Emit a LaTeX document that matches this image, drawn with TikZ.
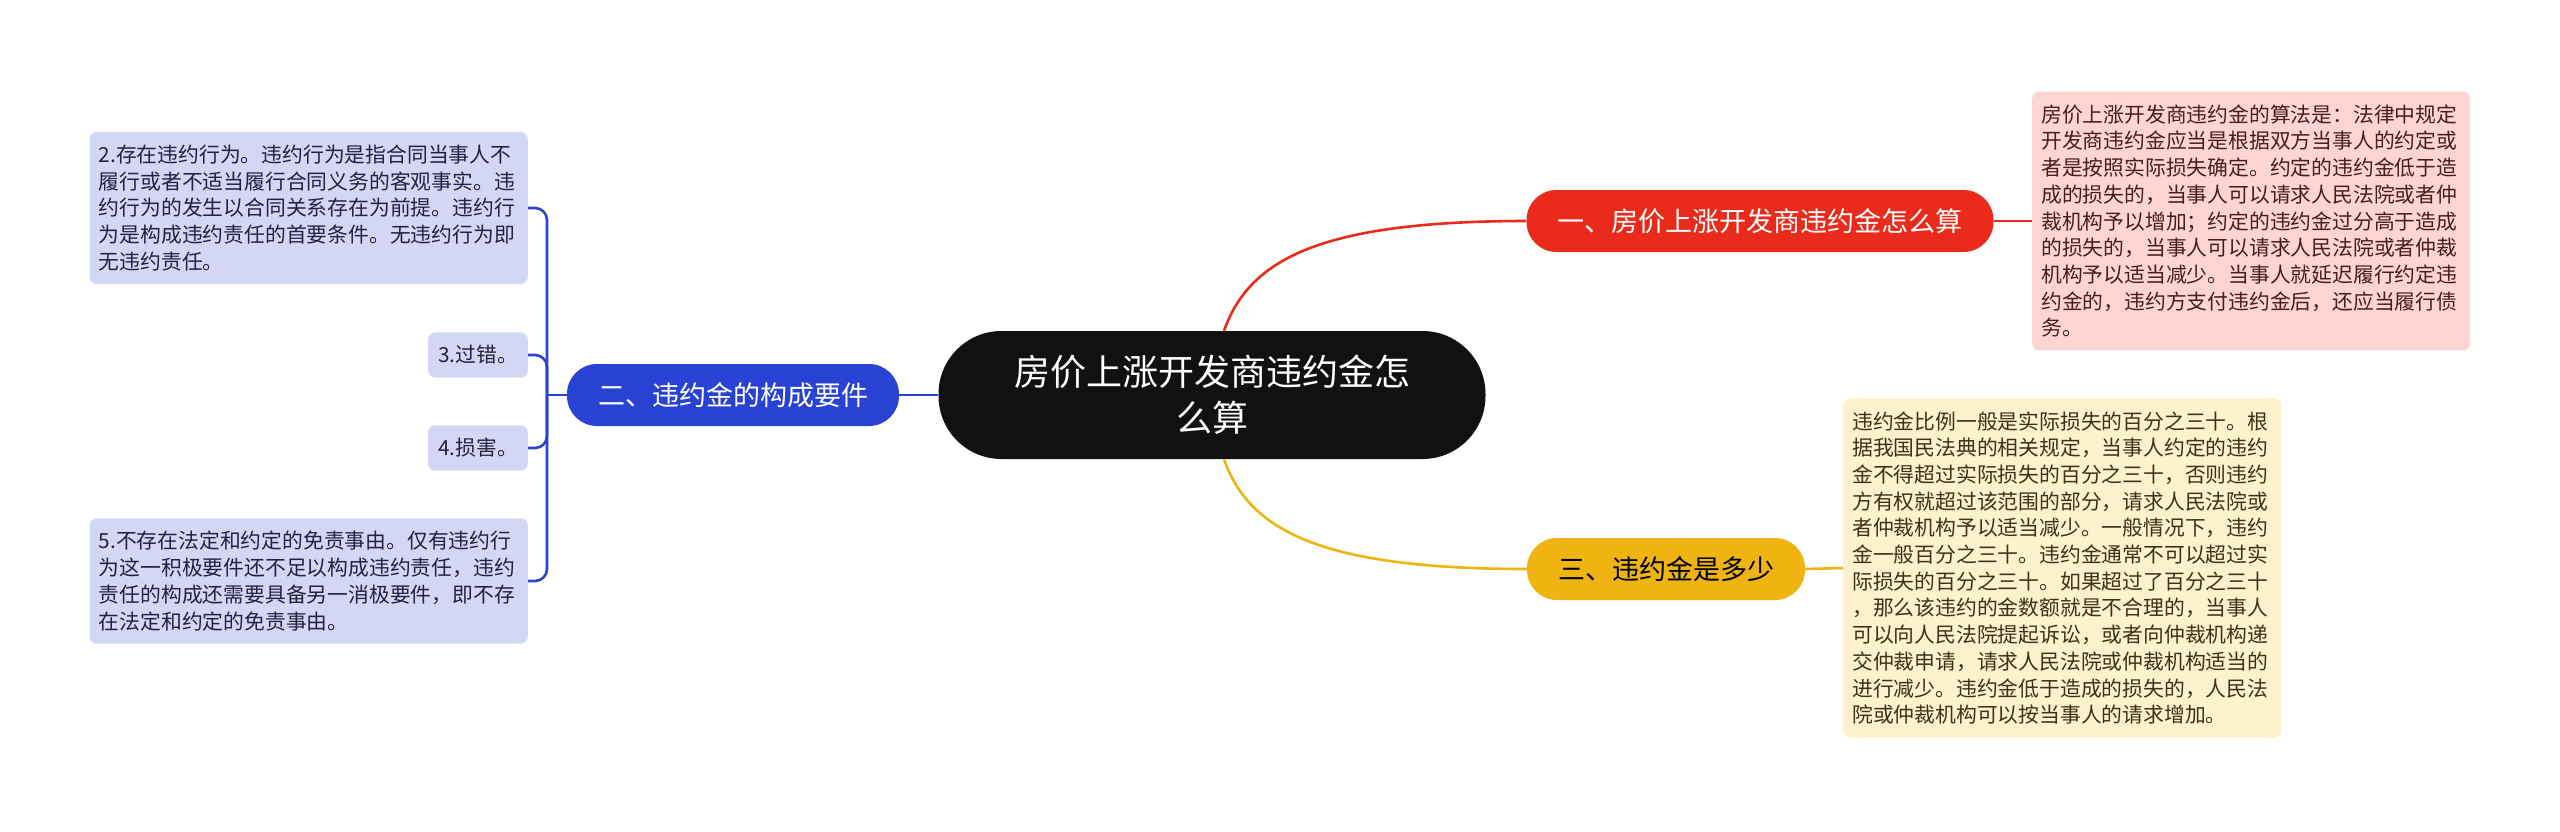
\documentclass[tikz,border=0pt]{standalone}
\usepackage{fontspec}
\setmainfont{Noto Sans CJK SC}
\definecolor{rootblack}{HTML}{111111}
\definecolor{redmain}{HTML}{EA2B1B}
\definecolor{rednote}{HTML}{FDD6D4}
\definecolor{redtext}{HTML}{4A1C1C}
\definecolor{bluemain}{HTML}{2843D4}
\definecolor{blueleaf}{HTML}{D3D7F5}
\definecolor{bluetext}{HTML}{22223C}
\definecolor{yellowmain}{HTML}{EFB412}
\definecolor{yellownote}{HTML}{FDF2CD}
\definecolor{yellowtext}{HTML}{3E3214}

\begin{document}
\begin{tikzpicture}[x=1pt, y=-1pt,
  root/.style={fill=rootblack, text=white, rounded corners=63pt, minimum width=547pt, minimum height=128pt, align=center, font=\fontsize{36}{46}\selectfont},
  branch/.style={rounded corners=30pt, minimum height=62pt, inner xsep=31pt, font=\fontsize{27}{32}\selectfont},
  leaf/.style={rounded corners=7pt, inner xsep=10pt, inner ysep=13pt, align=left, font=\fontsize{20.8}{26.7}\selectfont},
  note/.style={leaf, text width=420pt, inner xsep=9pt},
  link/.style={line width=2.6pt}
]
\useasboundingbox (0,0) rectangle (2560,831);

\node[root] (root) at (1212,395) {房价上涨开发商违约金怎\\么算};

\node[branch, fill=redmain, text=white] (b1) at (1760,221) {一、房价上涨开发商违约金怎么算};
\node[branch, fill=bluemain, text=white] (b2) at (733,395) {二、违约金的构成要件};
\node[branch, fill=yellowmain, text=black] (b3) at (1666,569) {三、违约金是多少};

\node[note, fill=rednote, text=redtext, anchor=west] (n1) at (2032,221) {房价上涨开发商违约金的算法是：法律中规定\\
开发商违约金应当是根据双方当事人的约定或\\
者是按照实际损失确定。约定的违约金低于造\\
成的损失的，当事人可以请求人民法院或者仲\\
裁机构予以增加；约定的违约金过分高于造成\\
的损失的，当事人可以请求人民法院或者仲裁\\
机构予以适当减少。当事人就延迟履行约定违\\
约金的，违约方支付违约金后，还应当履行债\\
务。};

\node[note, fill=yellownote, text=yellowtext, anchor=west] (n3) at (1843,568) {违约金比例一般是实际损失的百分之三十。根\\
据我国民法典的相关规定，当事人约定的违约\\
金不得超过实际损失的百分之三十，否则违约\\
方有权就超过该范围的部分，请求人民法院或\\
者仲裁机构予以适当减少。一般情况下，违约\\
金一般百分之三十。违约金通常不可以超过实\\
际损失的百分之三十。如果超过了百分之三十\\
，那么该违约的金数额就是不合理的，当事人\\
可以向人民法院提起诉讼，或者向仲裁机构递\\
交仲裁申请，请求人民法院或仲裁机构适当的\\
进行减少。违约金低于造成的损失的，人民法\\
院或仲裁机构可以按当事人的请求增加。};

\node[note, fill=blueleaf, text=bluetext, anchor=east] (l2) at (528,208) {2.存在违约行为。违约行为是指合同当事人不\\
履行或者不适当履行合同义务的客观事实。违\\
约行为的发生以合同关系存在为前提。违约行\\
为是构成违约责任的首要条件。无违约行为即\\
无违约责任。};
\node[leaf, fill=blueleaf, text=bluetext, anchor=east] (l3) at (528,355) {3.过错。};
\node[leaf, fill=blueleaf, text=bluetext, anchor=east] (l4) at (528,448) {4.损害。};
\node[note, fill=blueleaf, text=bluetext, anchor=east] (l5) at (528,581) {5.不存在法定和约定的免责事由。仅有违约行\\
为这一积极要件还不足以构成违约责任，违约\\
责任的构成还需要具备另一消极要件，即不存\\
在法定和约定的免责事由。};

\coordinate (bj) at (547,395);

\draw[link, redmain] ([xshift=12pt]root.north) .. controls +(25,-71) and +(-207,0) .. (b1.west);
\draw[link, yellowmain] ([xshift=12pt]root.south) .. controls +(25,71) and +(-207,0) .. (b3.west);
\draw[link, bluemain] (root.west) -- (b2.east);
\draw[link, redmain] (b1.east) -- (n1.west);
\draw[link, yellowmain] (b3.east) -- (n3.west);
\draw[link, bluemain] (b2.west) -- (bj);
\draw[link, bluemain, rounded corners=12pt] (bj) |- (l2.east);
\draw[link, bluemain, rounded corners=12pt] (bj) |- (l3.east);
\draw[link, bluemain, rounded corners=12pt] (bj) |- (l4.east);
\draw[link, bluemain, rounded corners=12pt] (bj) |- (l5.east);
\end{tikzpicture}
\end{document}
